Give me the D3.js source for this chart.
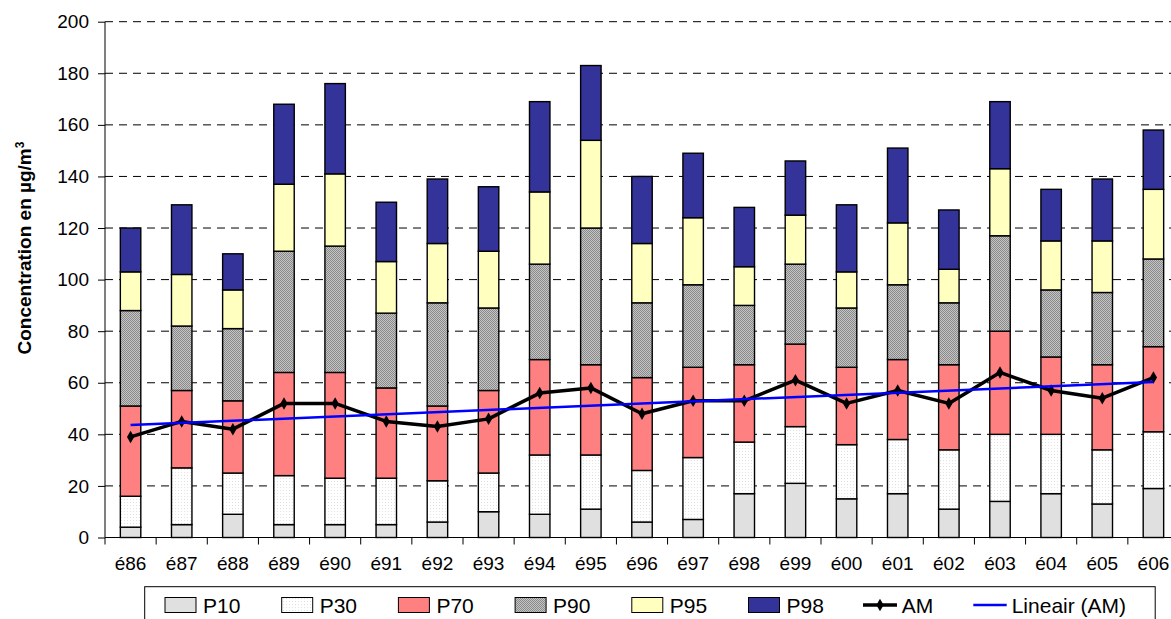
<!DOCTYPE html>
<html>
  <head>
    <meta charset="utf-8">
    <title>Concentration percentiles</title>
    <style>
body {
  margin: 0;
  background: #fff;
}
svg text {
  font-family: Arial, 'Liberation Sans', sans-serif;
  fill: #000;
}
    </style>
  </head>
  <body>
    <div id="chart"></div>
    <script src="https://cdn.jsdelivr.net/npm/d3@7/dist/d3.min.js"></script>
    <script>

    // percentile values per summer (tops of each stacked segment)
    var years = ['é86','é87','é88','é89','é90','é91','é92','é93','é94','é95','é96',
                 'é97','é98','é99','é00','é01','é02','é03','é04','é05','é06'];
    var p10 = [4, 5, 9, 5, 5, 5, 6, 10, 9, 11, 6, 7, 17, 21, 15, 17, 11, 14, 17, 13, 19];
    var p30 = [16, 27, 25, 24, 23, 23, 22, 25, 32, 32, 26, 31, 37, 43, 36, 38, 34, 40, 40, 34, 41];
    var p70 = [51, 57, 53, 64, 64, 58, 51, 57, 69, 67, 62, 66, 67, 75, 66, 69, 67, 80, 70, 67, 74];
    var p90 = [88, 82, 81, 111, 113, 87, 91, 89, 106, 120, 91, 98, 90, 106, 89, 98, 91, 117, 96, 95, 108];
    var p95 = [103, 102, 96, 137, 141, 107, 114, 111, 134, 154, 114, 124, 105, 125, 103, 122, 104, 143, 115, 115, 135];
    var p98 = [120, 129, 110, 168, 176, 130, 139, 136, 169, 183, 140, 149, 128, 146, 129, 151, 127, 169, 135, 139, 158];
    var am  = [39, 45, 42, 52, 52, 45, 43, 46, 56, 58, 48, 53, 53, 61, 52, 57, 52, 64, 57, 54, 62];

    var yTicks = [0, 20, 40, 60, 80, 100, 120, 140, 160, 180, 200];
    var seriesNames = ['P10', 'P30', 'P70', 'P90', 'P95', 'P98'];
    var seriesData = [p10, p30, p70, p90, p95, p98];

    var width = 1171,
        height = 619,
        plotLeft = 105,
        plotRight = 1179,
        plotTop = 21.7,
        plotBottom = 537.5;

    var fills = {
      P10: '#e0e0e0',
      P30: 'url(#dots)',
      P70: '#ff8080',
      P90: 'url(#checker)',
      P95: '#ffffc0',
      P98: '#333399'
    };

    var svg = d3.select('#chart').append('svg')
        .attr('width', width)
        .attr('height', height);

    var defs = svg.append('defs');
    var dots = defs.append('pattern')
        .attr('id', 'dots')
        .attr('patternUnits', 'userSpaceOnUse')
        .attr('width', 3)
        .attr('height', 3);
    dots.append('rect').attr('width', 3).attr('height', 3).style('fill', '#fff');
    dots.append('rect').attr('x', 1).attr('y', 1).attr('width', 1).attr('height', 1).style('fill', '#e2e2e2');

    var checker = defs.append('pattern')
        .attr('id', 'checker')
        .attr('patternUnits', 'userSpaceOnUse')
        .attr('width', 2)
        .attr('height', 2);
    checker.append('rect').attr('width', 2).attr('height', 2).style('fill', '#c4c4c4');
    checker.append('rect').attr('width', 1).attr('height', 1).style('fill', '#8a8a8a');
    checker.append('rect').attr('x', 1).attr('y', 1).attr('width', 1).attr('height', 1).style('fill', '#8a8a8a');

    var x = d3.scaleBand().domain(years).range([plotLeft, plotRight]).paddingInner(0).paddingOuter(0);
    var y = d3.scaleLinear().domain([0, 200]).range([plotBottom, plotTop]);
    var barW = x.bandwidth() * 0.4;
    var cx = function(d) { return x(d) + x.bandwidth() / 2; };

    // dashed grid
    svg.append('g').selectAll('line')
        .data(yTicks.slice(1))
        .enter().append('line')
        .attr('x1', plotLeft)
        .attr('x2', width)
        .attr('y1', function(d) { return y(d); })
        .attr('y2', function(d) { return y(d); })
        .style('stroke', '#000')
        .style('stroke-width', 1)
        .style('stroke-dasharray', '8,6');

    // y axis
    var yAxis = svg.append('g')
        .attr('transform', 'translate(' + plotLeft + ',0)')
        .call(d3.axisLeft(y).tickValues(yTicks).tickSize(7).tickPadding(9));
    yAxis.selectAll('text').style('font-size', '19px');
    yAxis.selectAll('line, path').style('stroke', '#000');
    yAxis.select('.domain').attr('d', 'M0,' + plotBottom + 'V' + plotTop);

    svg.append('text')
        .attr('transform', 'translate(31,' + 248 + ') rotate(-90)')
        .attr('text-anchor', 'middle')
        .style('font-size', '19px')
        .style('font-weight', 'bold')
        .text('Concentration en µg/m')
      .append('tspan')
        .attr('dy', '-0.55em')
        .style('font-size', '12px')
        .text('3');

    // bars
    var stacks = svg.append('g').selectAll('g')
        .data(years)
        .enter().append('g');

    stacks.each(function(yr, i) {
      var g = d3.select(this);
      var segs = seriesNames.map(function(name, k) {
        return {
          name: name,
          lo: k === 0 ? 0 : seriesData[k - 1][i],
          hi: seriesData[k][i]
        };
      });
      g.selectAll('rect')
          .data(segs)
          .enter().append('rect')
          .attr('x', cx(yr) - barW / 2)
          .attr('width', barW)
          .attr('y', function(s) { return y(s.hi); })
          .attr('height', function(s) { return y(s.lo) - y(s.hi); })
          .style('fill', function(s) { return fills[s.name]; })
          .style('stroke', '#000')
          .style('stroke-width', 1.4);
    });

    // x axis
    var xAxis = svg.append('g')
        .attr('transform', 'translate(0,' + plotBottom + ')')
        .call(d3.axisBottom(x).tickSize(0).tickPadding(19));
    xAxis.selectAll('text').style('font-size', '19px');
    xAxis.select('.domain').remove();
    xAxis.append('line')
        .attr('x1', plotLeft).attr('x2', width)
        .style('stroke', '#000');
    xAxis.selectAll('.bound')
        .data(years.map(function(d) { return x(d); }).concat([plotRight]))
        .enter().append('line')
        .attr('class', 'bound')
        .attr('x1', function(d) { return d; })
        .attr('x2', function(d) { return d; })
        .attr('y1', 0)
        .attr('y2', 7)
        .style('stroke', '#000');

    // AM line
    var line = d3.line()
        .x(function(d, i) { return cx(years[i]); })
        .y(function(d) { return y(d); });

    svg.append('path')
        .datum(am)
        .attr('d', line)
        .style('fill', 'none')
        .style('stroke', '#000')
        .style('stroke-width', 3.5)
        .style('stroke-linejoin', 'round');

    svg.append('g').selectAll('path')
        .data(am)
        .enter().append('path')
        .attr('transform', function(d, i) { return 'translate(' + cx(years[i]) + ',' + y(d) + ')'; })
        .attr('d', d3.symbol().type(d3.symbolDiamond).size(45))
        .style('fill', '#000');

    // linear trend of AM (least squares)
    var n = am.length,
        mx = d3.mean(am, function(d, i) { return i; }),
        my = d3.mean(am),
        sxy = d3.sum(am, function(d, i) { return (i - mx) * (d - my); }),
        sxx = d3.sum(am, function(d, i) { return (i - mx) * (i - mx); }),
        slope = sxy / sxx,
        icpt = my - slope * mx;

    svg.append('line')
        .attr('x1', cx(years[0]))
        .attr('x2', cx(years[n - 1]))
        .attr('y1', y(icpt))
        .attr('y2', y(icpt + slope * (n - 1)))
        .style('stroke', '#0000ff')
        .style('stroke-width', 2.5);

    // legend
    var legend = svg.append('g');
    legend.append('rect')
        .attr('x', 144.7)
        .attr('y', 586.7)
        .attr('width', 1010.5)
        .attr('height', 60)
        .style('fill', '#fff')
        .style('stroke', '#000')
        .style('stroke-width', 1);

    var legY = 605;
    seriesNames.forEach(function(name, k) {
      var lx = 165 + k * 116.7;
      legend.append('rect')
          .attr('x', lx)
          .attr('y', legY - 7.5)
          .attr('width', 31)
          .attr('height', 15)
          .style('fill', fills[name])
          .style('stroke', '#000')
          .style('stroke-width', 1);
      legend.append('text')
          .attr('x', lx + 38)
          .attr('y', legY + 7.5)
          .style('font-size', '21px')
          .text(name);
    });

    legend.append('line')
        .attr('x1', 863).attr('x2', 897)
        .attr('y1', legY).attr('y2', legY)
        .style('stroke', '#000')
        .style('stroke-width', 3.5);
    legend.append('path')
        .attr('transform', 'translate(880,' + legY + ')')
        .attr('d', d3.symbol().type(d3.symbolDiamond).size(45))
        .style('fill', '#000');
    legend.append('text')
        .attr('x', 901.7)
        .attr('y', legY + 7.5)
        .style('font-size', '21px')
        .text('AM');

    legend.append('line')
        .attr('x1', 973.3).attr('x2', 1006.7)
        .attr('y1', legY).attr('y2', legY)
        .style('stroke', '#0000ff')
        .style('stroke-width', 2.5);
    legend.append('text')
        .attr('x', 1011.7)
        .attr('y', legY + 7.5)
        .style('font-size', '21px')
        .text('Lineair (AM)');

    </script>
  </body>
</html>
